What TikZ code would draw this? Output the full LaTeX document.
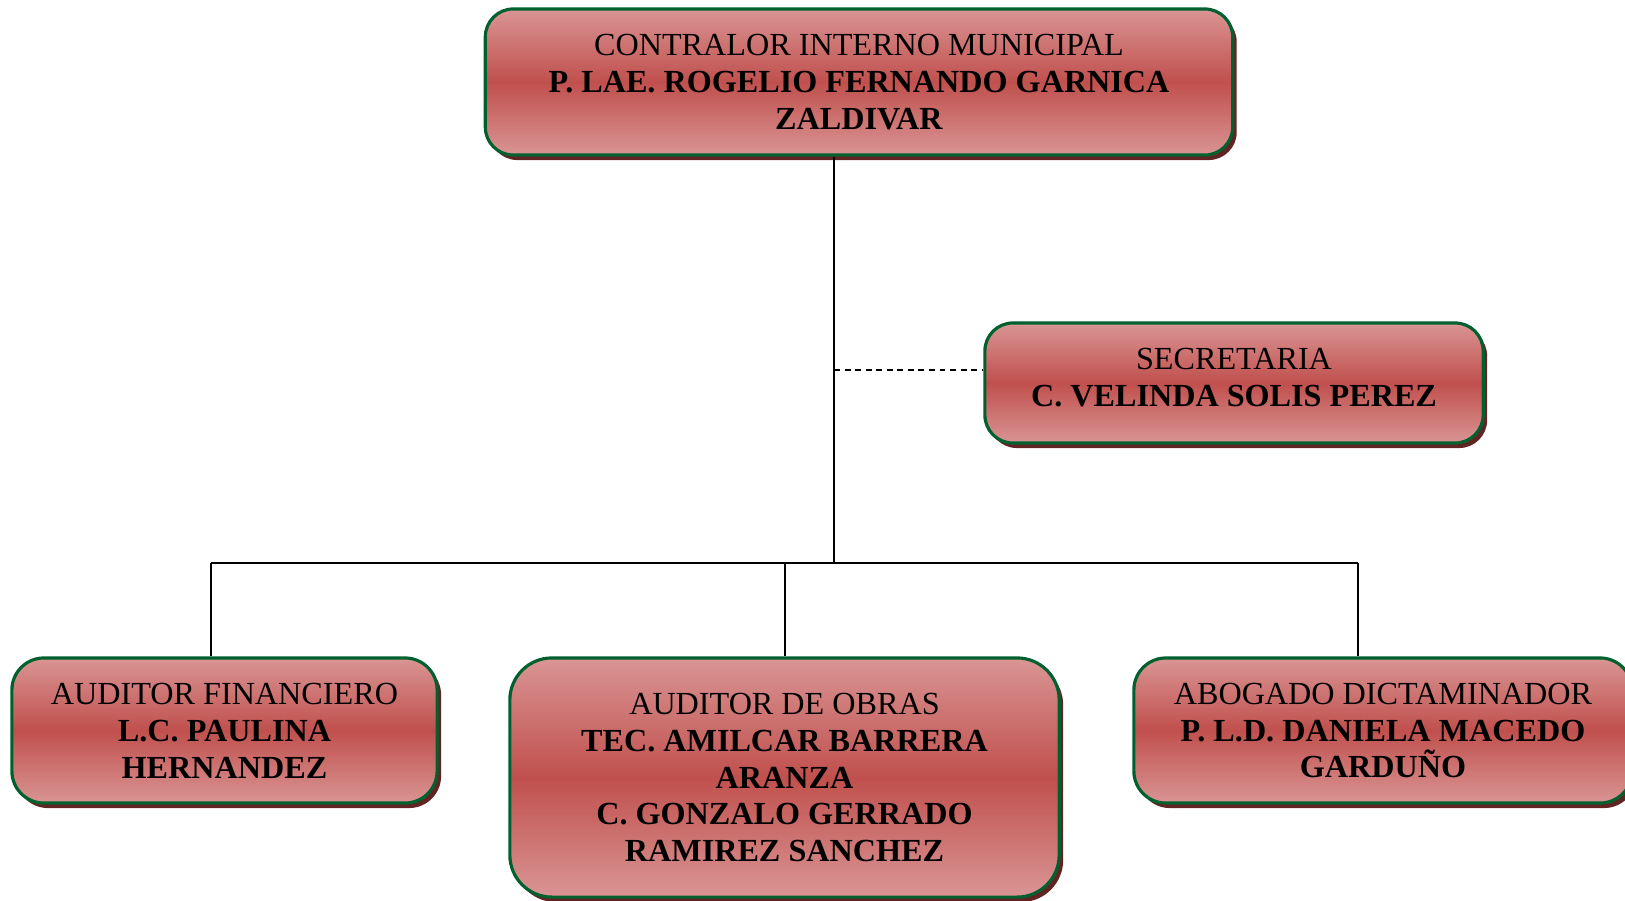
\documentclass[tikz,border=0pt]{standalone}
\usepackage{fontspec}
\setmainfont{Liberation Serif}
\usetikzlibrary{shadows}

\definecolor{boxLight}{HTML}{D99594}
\definecolor{boxDark}{HTML}{C0504D}
\definecolor{boxEdge}{HTML}{00612E}
\definecolor{boxShadow}{HTML}{622423}

\tikzset{
  orgbox/.style={draw=boxEdge, line width=0.9pt, rounded corners=0.28cm,
    top color=boxLight, bottom color=boxLight, middle color=boxDark,
    drop shadow={shadow xshift=0.04cm, shadow yshift=-0.05cm, fill=boxShadow, opacity=1},
    align=center, inner sep=0pt, font=\fontsize{9.15}{10.5}\selectfont},
  link/.style={line width=0.55pt}
}

\begin{document}
\begin{tikzpicture}[x=0.01cm, y=-0.01cm]
    \useasboundingbox (0,0) rectangle (1625,900);

    %% boxes
    \node [orgbox, minimum width=7.47cm, minimum height=1.46cm] (boss) at (859,82)
        {CONTRALOR INTERNO MUNICIPAL\\\textbf{P. LAE. ROGELIO FERNANDO GARNICA}\\\textbf{ZALDIVAR}};
    \node [orgbox, minimum width=4.98cm, minimum height=1.20cm, text depth=3pt] (sec) at (1234,383)
        {SECRETARIA\\\textbf{C. VELINDA SOLIS PEREZ}};
    \node [orgbox, minimum width=4.25cm, minimum height=1.45cm, rounded corners=0.32cm] (fin) at (224.5,730.5)
        {AUDITOR FINANCIERO\\\textbf{L.C. PAULINA}\\\textbf{HERNANDEZ}};
    \node [orgbox, minimum width=5.49cm, minimum height=2.39cm, rounded corners=0.42cm] (obras) at (784.5,777.5)
        {AUDITOR DE OBRAS\\\textbf{TEC. AMILCAR BARRERA}\\\textbf{ARANZA}\\\textbf{C. GONZALO GERRADO}\\\textbf{RAMIREZ SANCHEZ}};
    \node [orgbox, minimum width=4.98cm, minimum height=1.45cm, rounded corners=0.32cm] (abog) at (1383,730.5)
        {ABOGADO DICTAMINADOR\\\textbf{P. L.D. DANIELA MACEDO}\\\textbf{GARDUÑO}};

    %% junctions
    \coordinate (tap)  at (834,370);
    \coordinate (bus)  at (834,563);
    \coordinate (busL) at (211,563);
    \coordinate (busM) at (785,563);
    \coordinate (busR) at (1358,563);

    %% lines
    \draw [link] (boss.south -| bus) -- (bus);
    \draw [link, dash pattern=on 1.7pt off 1.3pt] (tap) -- (tap -| sec.west);
    \draw [link] (busL) -- (busR);
    \draw [link] (busL) -- (busL |- fin.north);
    \draw [link] (busM) -- (busM |- obras.north);
    \draw [link] (busR) -- (busR |- abog.north);
\end{tikzpicture}
\end{document}
